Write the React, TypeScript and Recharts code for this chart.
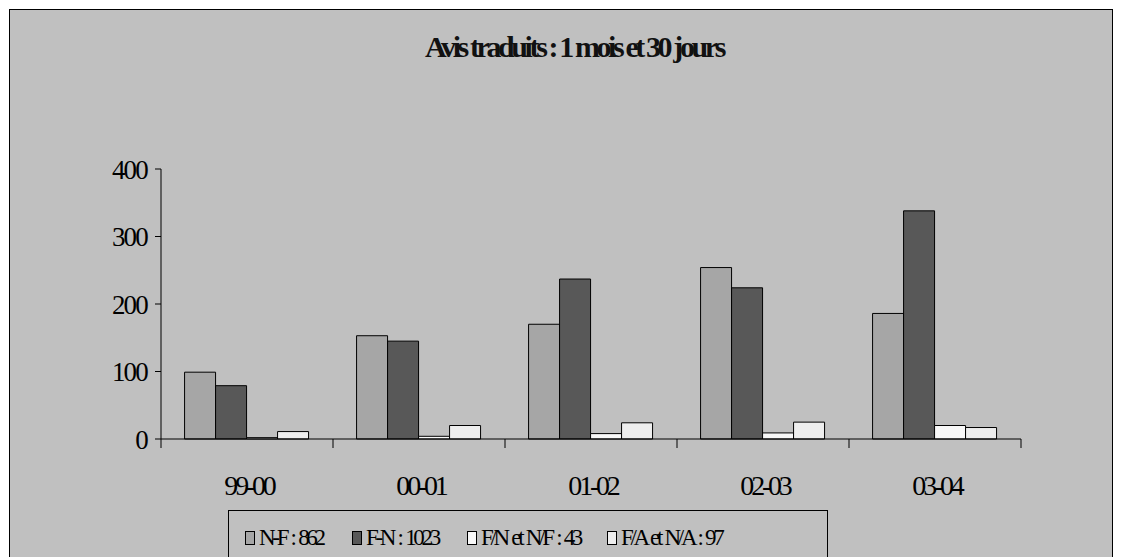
import { BarChart, Bar, XAxis, YAxis } from 'recharts';

const periods = ['99-00', '00-01', '01-02', '02-03', '03-04'];
const nf = [99, 153, 170, 254, 186];
const fn = [79, 145, 237, 224, 338];
const fnnf = [2, 4, 8, 9, 20];
const fana = [11, 20, 24, 25, 17];
const yTicks = [0, 100, 200, 300, 400];

const seriesNames = ['N-F : 862', 'F-N : 1023', 'F/N et N/F : 43', 'F/A et N/A : 97'];
const COLORS = ['#a6a6a6', '#585858', '#f8f8f8', '#eeeeee'];
const KEYS = ['nf', 'fn', 'fnnf', 'fana'];

const data = periods.map((p, i) => ({
  period: p,
  nf: nf[i],
  fn: fn[i],
  fnnf: fnnf[i],
  fana: fana[i],
}));

const FONT = '"Liberation Serif", "Times New Roman", serif';
const BAND = 860 / periods.length;

const XTick = (props: any) => {
  const { x, y, payload, index } = props;
  const half = BAND / 2;
  return (
    <g>
      <line x1={x - half} y1={y - 8} x2={x - half} y2={y + 1} stroke="#000" />
      {index === periods.length - 1 && (
        <line x1={x + half} y1={y - 8} x2={x + half} y2={y + 1} stroke="#000" />
      )}
      <text
        x={x + 2}
        y={y + 48}
        textAnchor="middle"
        fill="#000"
        style={{ fontFamily: FONT, fontSize: 28, letterSpacing: -3.2 }}
      >
        {payload.value}
      </text>
    </g>
  );
};

const App = () => {
  return (
    <div style={{ position: 'fixed', left: 0, top: 0, width: 1122, height: 557, background: '#fff', overflow: 'hidden' }}>
      <div
        style={{
          position: 'absolute',
          left: 9,
          top: 9,
          width: 1104,
          height: 570,
          boxSizing: 'border-box',
          border: '1px solid #000',
          background: '#c0c0c0',
        }}
      />
      <svg style={{ position: 'absolute', left: 0, top: 0 }} width={1122} height={100}>
        <text
          x={574}
          y={57}
          textAnchor="middle"
          fill="#111"
          style={{ fontFamily: FONT, fontWeight: 'bold', fontSize: 30, letterSpacing: -3.4 }}
        >
          Avis traduits : 1 mois et 30 jours
        </text>
      </svg>
      <div style={{ position: 'absolute', left: 0, top: 0 }}>
        <BarChart
          width={1122}
          height={557}
          data={data}
          margin={{ top: 169, left: 101, right: 101, bottom: 88 }}
          barCategoryGap="13.7%"
          barGap={0}
        >
          <XAxis
            dataKey="period"
            stroke="#000"
            tickLine={false}
            tick={<XTick />}
            height={30}
          />
          <YAxis
            domain={[0, 400]}
            ticks={yTicks}
            width={60}
            stroke="#000"
            tickSize={6}
            tickMargin={8}
            tick={{ fill: '#000', fontFamily: FONT, fontSize: 27, letterSpacing: -1.8 }}
          />
          {KEYS.map((k, i) => (
            <Bar
              key={k}
              dataKey={k}
              name={seriesNames[i]}
              fill={COLORS[i]}
              stroke="#000"
              strokeWidth={1}
              isAnimationActive={false}
            />
          ))}
        </BarChart>
      </div>
      <div
        style={{
          position: 'absolute',
          left: 228,
          top: 510,
          width: 600,
          height: 70,
          boxSizing: 'border-box',
          border: '1px solid #000',
          background: '#c0c0c0',
        }}
      >
        {seriesNames.map((n, i) => (
          <div
            key={n}
            style={{
              position: 'absolute',
              left: [16, 123, 238, 378][i],
              top: 12,
              height: 30,
              display: 'flex',
              alignItems: 'center',
              fontFamily: FONT,
              fontSize: 23,
              letterSpacing: -3.3,
              wordSpacing: 2,
              whiteSpace: 'nowrap',
              color: '#000',
            }}
          >
            <span
              style={{
                display: 'inline-block',
                width: 10,
                height: 14,
                boxSizing: 'border-box',
                border: '1px solid #000',
                background: COLORS[i],
                marginRight: 4,
              }}
            />
            <span style={{ whiteSpace: 'pre' }}>{n}</span>
          </div>
        ))}
      </div>
    </div>
  );
};

export default App;
